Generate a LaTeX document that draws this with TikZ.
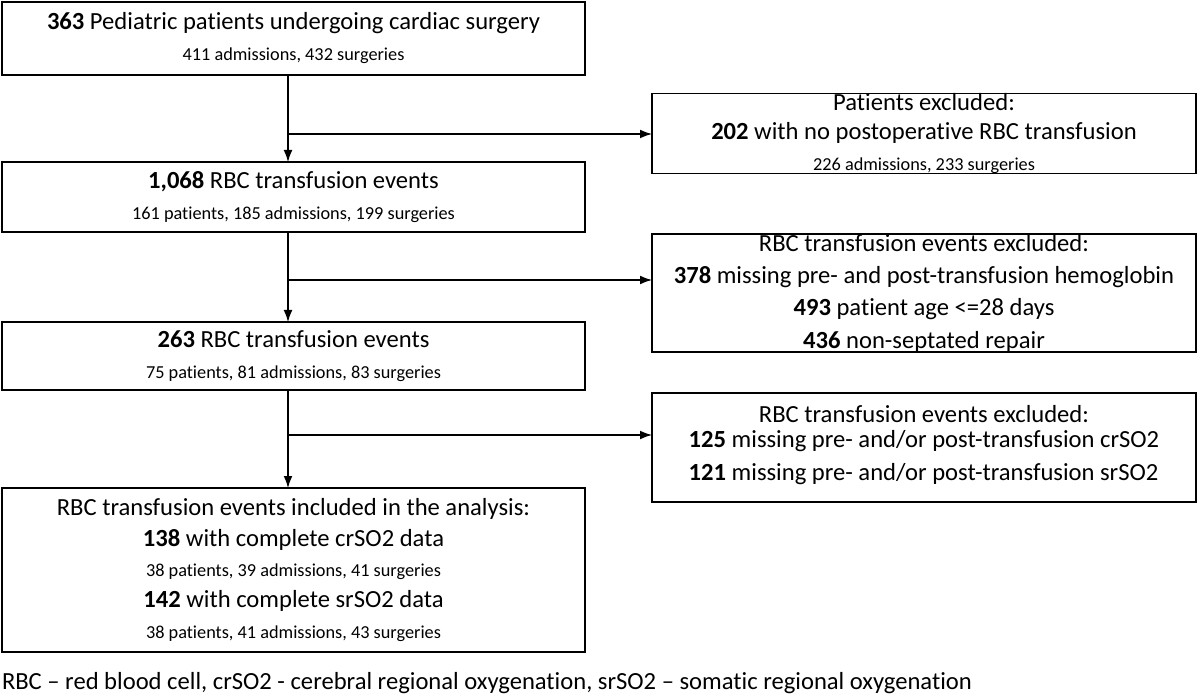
\documentclass[tikz,border=0pt]{standalone}
\usepackage{fontspec}
\setmainfont{Carlito}[RawFeature=-liga]
\usetikzlibrary{arrows.meta}
\begin{document}
\begin{tikzpicture}[x=0.025cm, y=-0.025cm]
\tikzset{ >={Latex[length=3mm,width=2.2mm]}, inner sep=0pt, outer sep=0pt,
  flowbox/.style={draw, thick, align=center, font=\fontsize{17.5}{21}\selectfont}}
\newcommand{\smalltxt}{\fontsize{13}{15}\selectfont}

\useasboundingbox (0,0) rectangle (1200,694);

\node [flowbox, minimum width=583*0.025cm, minimum height=73*0.025cm] (P) at (293.5,38.5)
  {\textbf{363} Pediatric patients undergoing cardiac surgery\\[1pt]
   {\smalltxt 411 admissions, 432 surgeries}};
\node [flowbox, minimum width=583*0.025cm, minimum height=70*0.025cm] (E1) at (293.5,197)
  {\textbf{1,068} RBC transfusion events\\[1pt]
   {\smalltxt 161 patients, 185 admissions, 199 surgeries}};
\node [flowbox, minimum width=583*0.025cm, minimum height=68*0.025cm] (E2) at (293.5,356)
  {\textbf{263} RBC transfusion events\\[1pt]
   {\smalltxt 75 patients, 81 admissions, 83 surgeries}};
\node [flowbox, minimum width=583*0.025cm, minimum height=164*0.025cm] (Inc) at (293.5,570)
  {RBC transfusion events included in the analysis:\\[1pt]
   \textbf{138} with complete crSO2 data\\[1pt]
   {\smalltxt 38 patients, 39 admissions, 41 surgeries}\\[1pt]
   \textbf{142} with complete srSO2 data\\[1pt]
   {\smalltxt 38 patients, 41 admissions, 43 surgeries}};

\node [flowbox, minimum width=544*0.025cm, minimum height=73*0.025cm] (XA) at (924,133.5)
  {Patients excluded:\\
   \textbf{202} with no postoperative RBC transfusion\\[1pt]
   {\smalltxt 226 admissions, 233 surgeries}};
\node [flowbox, minimum width=544*0.025cm, minimum height=114*0.025cm] (XB) at (924,293)
  {RBC transfusion events excluded:\\[2pt]
   \textbf{378} missing pre- and post-transfusion hemoglobin\\[2pt]
   \textbf{493} patient age <=28 days\\[2pt]
   \textbf{436} non-septated repair};
\node [flowbox, minimum width=544*0.025cm, minimum height=109*0.025cm] (XC) at (924,447.5)
  {RBC transfusion events excluded:\\[2pt]
   \begin{tabular}{@{}l@{}}
   \textbf{125} missing pre- and/or post-transfusion crSO2\\[2pt]
   \textbf{121} missing pre- and/or post-transfusion srSO2
   \end{tabular}};

\coordinate (J1) at (288,134);
\coordinate (J2) at (288,280);
\coordinate (J3) at (288,435);

\draw [->, thick] (P.south -| J1) -- (E1.north -| J1);
\draw [->, thick] (E1.south -| J2) -- (E2.north -| J2);
\draw [->, thick] (E2.south -| J3) -- (Inc.north -| J3);

\draw [->, thick] (J1) -- (J1 -| XA.west);
\draw [->, thick] (J2) -- (J2 -| XB.west);
\draw [->, thick] (J3) -- (J3 -| XC.west);

\node [anchor=west, font=\fontsize{17.5}{21}\selectfont] (note) at (2,683)
  {RBC – red blood cell, crSO2 - cerebral regional oxygenation, srSO2 – somatic regional oxygenation};

\end{tikzpicture}
\end{document}
